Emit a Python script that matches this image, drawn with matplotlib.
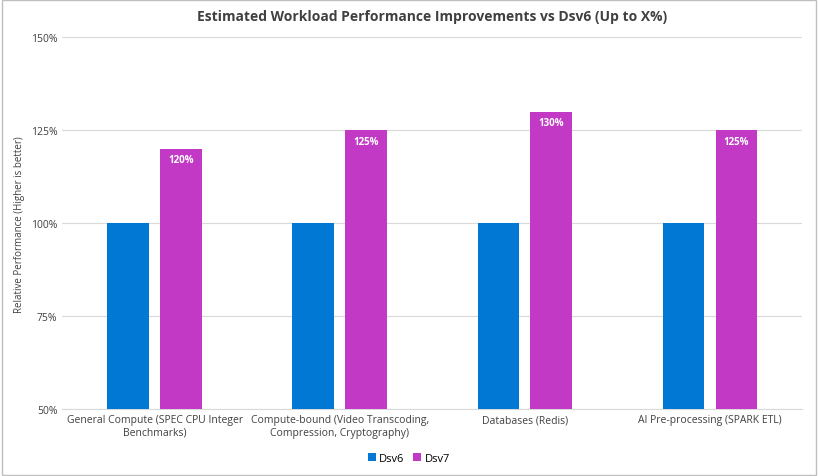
import matplotlib.pyplot as plt
import numpy as np
import pandas as pd


def main():
    plt.rcParams["font.family"] = ["Open Sans", "DejaVu Sans"]

    df = pd.DataFrame({
        "workload": ["General Compute (SPEC CPU Integer\nBenchmarks)",
                     "Compute-bound (Video Transcoding,\nCompression, Cryptography)",
                     "Databases (Redis)",
                     "AI Pre-processing (SPARK ETL)"],
        "Dsv6": [100, 100, 100, 100],
        "Dsv7": [120, 125, 130, 125],
    })

    fig = plt.figure(figsize=(8.18, 4.77), dpi=100)
    ax = fig.add_axes([0.076, 0.14, 0.905, 0.78])
    x = np.arange(len(df))
    w = 0.225
    ax.bar(x - 0.143, df["Dsv6"] - 50, w, bottom=50, color="#0078D4", label="Dsv6", zorder=3)
    bars = ax.bar(x + 0.143, df["Dsv7"] - 50, w, bottom=50, color="#C239C6", label="Dsv7", zorder=3)
    for b, v in zip(bars, df["Dsv7"]):
        ax.text(b.get_x() + b.get_width() / 2, v - 1.5, f"{v}%", ha="center", va="top",
                color="white", fontsize=7, fontweight="bold")

    ax.set_xlim(-0.5, len(df) - 0.5)
    ax.set_ylim(50, 150)
    ax.set_yticks([50, 75, 100, 125, 150])
    ax.set_yticklabels([f"{t}%" for t in [50, 75, 100, 125, 150]], fontsize=7.5, color="#404040")
    ax.set_xticks(x)
    ax.set_xticklabels(df["workload"], fontsize=7.5, color="#404040")
    ax.tick_params(length=0)
    ax.grid(axis="y", color="#D9D9D9", linewidth=0.8, zorder=0)
    for s in ["top", "right", "left"]:
        ax.spines[s].set_visible(False)
    ax.spines["bottom"].set_color("#D9D9D9")
    ax.set_ylabel("Relative Performance (Higher is better)", fontsize=7, color="#404040")
    ax.set_title("Estimated Workload Performance Improvements vs Dsv6 (Up to X%)",
                 fontsize=10, fontweight="bold", color="#404040", pad=12)
    fig.legend(loc="lower center", ncol=2, frameon=False, fontsize=8,
               bbox_to_anchor=(0.5, 0.005), handlelength=0.7, handleheight=0.7,
               columnspacing=0.8, handletextpad=0.3)
    fig.patches.append(plt.Rectangle((0.002, 0.002), 0.996, 0.996, transform=fig.transFigure,
                                     fill=False, edgecolor="#BFBFBF", linewidth=1))
    fig.savefig("out.png", dpi=100)


if __name__ == "__main__":
    main()
